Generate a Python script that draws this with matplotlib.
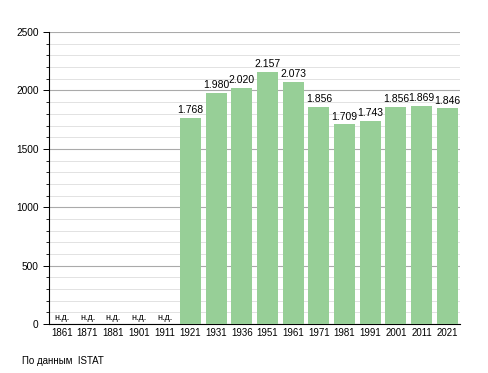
import matplotlib
matplotlib.use("Agg")
import matplotlib.pyplot as plt
from matplotlib.ticker import MultipleLocator

plt.rcParams['font.family'] = ['Liberation Sans', 'DejaVu Sans']

years = ['1861', '1871', '1881', '1901', '1911', '1921', '1931', '1936',
         '1951', '1961', '1971', '1981', '1991', '2001', '2011', '2021']
population = [None, None, None, None, None, 1768, 1980, 2020,
              2157, 2073, 1856, 1709, 1743, 1856, 1869, 1846]
no_data_label = 'н.д.'
source = 'По данным  ISTAT'

fig = plt.figure(figsize=(4.88, 3.73), dpi=100)
ax = fig.add_axes([0.1004, 0.131, 0.8426, 0.783])

x = list(range(len(years)))
vals = [v if v is not None else 0 for v in population]
ax.bar(x, vals, width=0.82, color='#97cf97', zorder=3)

for i, v in enumerate(population):
    if v is None:
        ax.text(i, 20, no_data_label, ha='center', va='bottom', fontsize=6.5, zorder=4)
    else:
        lbl = f'{v:,}'.replace(',', '.')
        ax.text(i, v + 25, lbl, ha='center', va='bottom', fontsize=7.5, zorder=4)

ax.set_xlim(-0.5, len(years) - 0.5)
ax.set_ylim(0, 2500)
ax.set_xticks(x)
ax.set_xticklabels(years, fontsize=7)
ax.yaxis.set_major_locator(MultipleLocator(500))
ax.yaxis.set_minor_locator(MultipleLocator(100))
ax.tick_params(axis='y', labelsize=7.3, length=4, width=0.7)
ax.tick_params(axis='y', which='minor', length=2.5, width=0.6)
ax.tick_params(axis='x', length=0, pad=3)
ax.grid(axis='y', which='major', color='#aaaaaa', linewidth=0.8, zorder=0)
ax.grid(axis='y', which='minor', color='#dddddd', linewidth=0.6, zorder=0)
for s in ['top', 'right']:
    ax.spines[s].set_visible(False)
ax.spines['left'].set_linewidth(0.8)
ax.spines['bottom'].set_linewidth(0.8)

fig.text(0.045, 0.02, source, fontsize=7, ha='left', va='bottom')

fig.savefig('out.png', dpi=100)
